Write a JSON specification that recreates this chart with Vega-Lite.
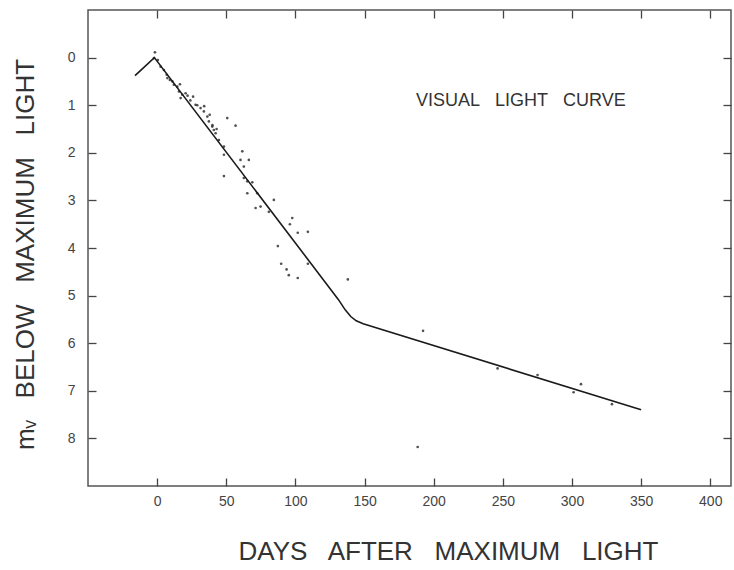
{
  "$schema": "https://vega.github.io/schema/vega-lite/v6.json",
  "width": 643,
  "height": 476,
  "autosize": {"type": "none"},
  "padding": {"left": 88, "top": 10, "right": 3, "bottom": 84},
  "background": "white",
  "config": {
    "view": {"stroke": "#555", "strokeWidth": 1.5},
    "axis": {
      "domain": false,
      "grid": false,
      "tickColor": "#444",
      "tickWidth": 1.3,
      "tickSize": -8,
      "labelFont": "Liberation Sans",
      "labelFontSize": 14,
      "labelColor": "#444",
      "titleFont": "Liberation Sans",
      "titleFontSize": 26,
      "titleFontWeight": "normal",
      "titleColor": "#333"
    }
  },
  "datasets": {
    "points": [
      {"day": -1.6, "mag": -0.11}, {"day": -2.3, "mag": 0.01}, {"day": 0.5, "mag": 0.05},
      {"day": 2.5, "mag": 0.19}, {"day": 4.9, "mag": 0.26}, {"day": 6.9, "mag": 0.36},
      {"day": 7.4, "mag": 0.43}, {"day": 9.2, "mag": 0.47}, {"day": 11, "mag": 0.5},
      {"day": 12.1, "mag": 0.57}, {"day": 14.6, "mag": 0.61}, {"day": 16.5, "mag": 0.56},
      {"day": 15.8, "mag": 0.71}, {"day": 18.2, "mag": 0.78}, {"day": 20.6, "mag": 0.75},
      {"day": 17, "mag": 0.85}, {"day": 22, "mag": 0.8}, {"day": 24, "mag": 0.9},
      {"day": 26, "mag": 0.82}, {"day": 27.8, "mag": 0.99}, {"day": 29, "mag": 1.0},
      {"day": 31.4, "mag": 1.06}, {"day": 33.8, "mag": 1.13}, {"day": 34, "mag": 1.02},
      {"day": 36.3, "mag": 1.24}, {"day": 37.4, "mag": 1.34}, {"day": 38, "mag": 1.2},
      {"day": 39.9, "mag": 1.45}, {"day": 41, "mag": 1.52}, {"day": 42.3, "mag": 1.59},
      {"day": 40, "mag": 1.42}, {"day": 43, "mag": 1.5}, {"day": 50.7, "mag": 1.27},
      {"day": 56.7, "mag": 1.43}, {"day": 44.7, "mag": 1.73}, {"day": 48.3, "mag": 1.87},
      {"day": 61.6, "mag": 1.97}, {"day": 48.3, "mag": 2.04}, {"day": 60.3, "mag": 2.15},
      {"day": 66.3, "mag": 2.15}, {"day": 62.7, "mag": 2.29}, {"day": 48.3, "mag": 2.49},
      {"day": 62.7, "mag": 2.53}, {"day": 65.2, "mag": 2.6}, {"day": 68.8, "mag": 2.62},
      {"day": 65.2, "mag": 2.85}, {"day": 72.4, "mag": 2.85}, {"day": 84.4, "mag": 2.99},
      {"day": 74.8, "mag": 3.13}, {"day": 71.2, "mag": 3.16}, {"day": 80.8, "mag": 3.24},
      {"day": 97.7, "mag": 3.37}, {"day": 96, "mag": 3.5}, {"day": 101.7, "mag": 3.68},
      {"day": 109, "mag": 3.66}, {"day": 87.3, "mag": 3.96}, {"day": 89.7, "mag": 4.33},
      {"day": 93.6, "mag": 4.45}, {"day": 95.2, "mag": 4.57}, {"day": 101.7, "mag": 4.63},
      {"day": 109, "mag": 4.33}, {"day": 137.9, "mag": 4.66}, {"day": 192.3, "mag": 5.74},
      {"day": 246.2, "mag": 6.53}, {"day": 275.1, "mag": 6.67}, {"day": 306.5, "mag": 6.86},
      {"day": 301.2, "mag": 7.03}, {"day": 328.9, "mag": 7.28}, {"day": 188.4, "mag": 8.18}
    ],
    "curve": [
      {"day": -16, "mag": 0.38}, {"day": -2, "mag": 0.0}, {"day": 131, "mag": 5.08},
      {"day": 136, "mag": 5.3}, {"day": 140, "mag": 5.44}, {"day": 144, "mag": 5.53},
      {"day": 149, "mag": 5.59}, {"day": 350, "mag": 7.4}
    ],
    "label": [
      {"day": 263, "mag": 1.01, "text": "VISUAL\u00a0\u00a0 LIGHT\u00a0\u00a0 CURVE"}
    ]
  },
  "layer": [
    {
      "data": {"name": "points"},
      "mark": {"type": "circle", "size": 7, "color": "#333", "opacity": 0.85},
      "encoding": {
        "x": {
          "field": "day", "type": "quantitative",
          "scale": {"domain": [-50, 415], "nice": false, "zero": false},
          "axis": {
            "orient": "bottom",
            "values": [0, 50, 100, 150, 200, 250, 300, 350, 400],
            "labelPadding": 16,
            "title": "DAYS\u00a0\u00a0 AFTER\u00a0\u00a0 MAXIMUM\u00a0\u00a0 LIGHT",
            "titleX": 360, "titleY": 73,
            "titleAlign": "center", "titleBaseline": "alphabetic"
          }
        },
        "y": {
          "field": "mag", "type": "quantitative",
          "scale": {"domain": [-1, 9], "reverse": true, "nice": false, "zero": false},
          "axis": {
            "orient": "left",
            "values": [0, 1, 2, 3, 4, 5, 6, 7, 8],
            "labelPadding": 21,
            "title": "m\u1d65\u00a0\u00a0 BELOW\u00a0\u00a0 MAXIMUM\u00a0\u00a0 LIGHT",
            "titleAngle": 270,
            "titleX": -63, "titleY": 244,
            "titleAlign": "center", "titleBaseline": "middle"
          }
        }
      }
    },
    {
      "data": {"name": "curve"},
      "mark": {"type": "line", "color": "#1a1a1a", "strokeWidth": 1.6},
      "encoding": {
        "x": {
          "field": "day", "type": "quantitative",
          "scale": {"domain": [-50, 415], "nice": false, "zero": false},
          "axis": {"orient": "top", "values": [0, 50, 100, 150, 200, 250, 300, 350, 400], "labels": false, "title": null}
        },
        "y": {
          "field": "mag", "type": "quantitative",
          "scale": {"domain": [-1, 9], "reverse": true, "nice": false, "zero": false},
          "axis": {"orient": "right", "values": [0, 1, 2, 3, 4, 5, 6, 7, 8], "labels": false, "title": null}
        }
      }
    },
    {
      "data": {"name": "label"},
      "mark": {"type": "text", "font": "Liberation Sans", "fontSize": 18, "color": "#333", "align": "center", "baseline": "alphabetic"},
      "encoding": {
        "x": {"field": "day", "type": "quantitative", "axis": null},
        "y": {"field": "mag", "type": "quantitative", "axis": null},
        "text": {"field": "text"}
      }
    }
  ],
  "resolve": {"axis": {"x": "independent", "y": "independent"}}
}
